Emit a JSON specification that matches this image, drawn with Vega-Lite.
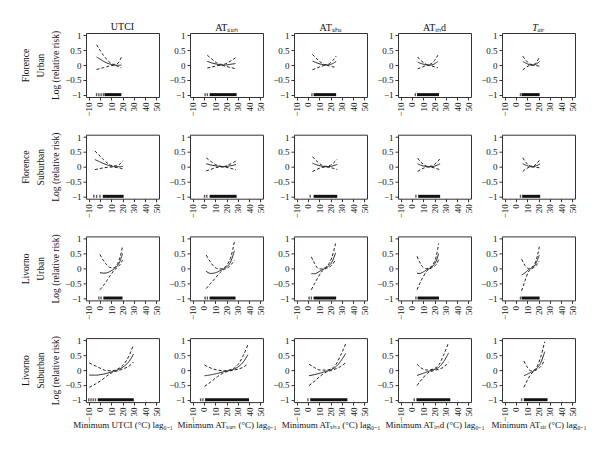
{
"$schema":"https://vega.github.io/schema/vega-lite/v6.json",
"padding":{"left":20,"top":21,"right":5,"bottom":5},
"columns":5,
"bounds":"flush",
"spacing":{"row":37.7,"column":31},
"datasets":{
"curves":[
{"p":"11","x":-3,"e":0.27,"h":0.68,"l":-0.15},{"p":"11","x":0,"e":0.2,"h":0.5,"l":-0.12},{"p":"11","x":3,"e":0.13,"h":0.33,"l":-0.09},{"p":"11","x":6,"e":0.07,"h":0.19,"l":-0.06},{"p":"11","x":9,"e":0.03,"h":0.08,"l":-0.03},{"p":"11","x":12,"e":0.0,"h":0.02,"l":-0.01},{"p":"11","x":15,"e":-0.01,"h":0.03,"l":-0.03},{"p":"11","x":17,"e":-0.01,"h":0.12,"l":-0.07},{"p":"11","x":19,"e":0.0,"h":0.26,"l":-0.1},
{"p":"12","x":3,"e":0.12,"h":0.33,"l":-0.1},{"p":"12","x":7,"e":0.07,"h":0.2,"l":-0.07},{"p":"12","x":11,"e":0.03,"h":0.08,"l":-0.03},{"p":"12","x":15,"e":0.0,"h":0.02,"l":-0.01},{"p":"12","x":19,"e":0.0,"h":0.04,"l":-0.04},{"p":"12","x":23,"e":0.02,"h":0.12,"l":-0.08},{"p":"12","x":28,"e":0.05,"h":0.24,"l":-0.12},
{"p":"13","x":4,"e":0.13,"h":0.36,"l":-0.16},{"p":"13","x":8,"e":0.07,"h":0.2,"l":-0.1},{"p":"13","x":12,"e":0.02,"h":0.07,"l":-0.04},{"p":"13","x":16,"e":0.0,"h":0.01,"l":-0.01},{"p":"13","x":19,"e":0.01,"h":0.05,"l":-0.03},{"p":"13","x":22,"e":0.05,"h":0.15,"l":-0.06},{"p":"13","x":25,"e":0.12,"h":0.3,"l":-0.08},
{"p":"14","x":5,"e":0.1,"h":0.27,"l":-0.13},{"p":"14","x":8,"e":0.05,"h":0.15,"l":-0.09},{"p":"14","x":11,"e":0.02,"h":0.06,"l":-0.04},{"p":"14","x":14,"e":0.0,"h":0.01,"l":-0.01},{"p":"14","x":17,"e":0.0,"h":0.04,"l":-0.03},{"p":"14","x":20,"e":0.04,"h":0.15,"l":-0.06},{"p":"14","x":23,"e":0.12,"h":0.33,"l":-0.09},
{"p":"15","x":6,"e":0.12,"h":0.3,"l":-0.17},{"p":"15","x":9,"e":0.06,"h":0.15,"l":-0.08},{"p":"15","x":12,"e":0.01,"h":0.04,"l":-0.02},{"p":"15","x":15,"e":0.0,"h":0.01,"l":-0.01},{"p":"15","x":18,"e":0.03,"h":0.08,"l":-0.02},{"p":"15","x":21,"e":0.12,"h":0.28,"l":-0.04},
{"p":"21","x":-4.5,"e":0.24,"h":0.53,"l":-0.1},{"p":"21","x":-1,"e":0.18,"h":0.4,"l":-0.07},{"p":"21","x":3,"e":0.11,"h":0.24,"l":-0.04},{"p":"21","x":7,"e":0.05,"h":0.11,"l":-0.02},{"p":"21","x":11,"e":0.01,"h":0.03,"l":-0.01},{"p":"21","x":15,"e":0.0,"h":0.03,"l":-0.03},{"p":"21","x":18,"e":0.0,"h":0.1,"l":-0.05},{"p":"21","x":20.5,"e":0.01,"h":0.2,"l":-0.08},
{"p":"22","x":2,"e":0.1,"h":0.3,"l":-0.14},{"p":"22","x":6,"e":0.06,"h":0.18,"l":-0.09},{"p":"22","x":10,"e":0.03,"h":0.08,"l":-0.04},{"p":"22","x":14,"e":0.01,"h":0.02,"l":-0.01},{"p":"22","x":18,"e":0.0,"h":0.01,"l":-0.01},{"p":"22","x":22,"e":0.02,"h":0.07,"l":-0.04},{"p":"22","x":26,"e":0.05,"h":0.14,"l":-0.08},{"p":"22","x":28.5,"e":0.07,"h":0.2,"l":-0.1},
{"p":"23","x":4,"e":0.12,"h":0.34,"l":-0.16},{"p":"23","x":8,"e":0.06,"h":0.18,"l":-0.09},{"p":"23","x":12,"e":0.02,"h":0.06,"l":-0.03},{"p":"23","x":16,"e":0.0,"h":0.01,"l":-0.01},{"p":"23","x":20,"e":0.01,"h":0.05,"l":-0.03},{"p":"23","x":23,"e":0.04,"h":0.14,"l":-0.06},{"p":"23","x":26,"e":0.08,"h":0.25,"l":-0.1},
{"p":"24","x":5,"e":0.1,"h":0.29,"l":-0.16},{"p":"24","x":8,"e":0.05,"h":0.15,"l":-0.09},{"p":"24","x":11,"e":0.02,"h":0.06,"l":-0.04},{"p":"24","x":14,"e":0.0,"h":0.01,"l":-0.01},{"p":"24","x":17,"e":0.0,"h":0.02,"l":-0.02},{"p":"24","x":20,"e":0.02,"h":0.08,"l":-0.04},{"p":"24","x":23,"e":0.06,"h":0.18,"l":-0.08},{"p":"24","x":25,"e":0.1,"h":0.28,"l":-0.1},
{"p":"25","x":6,"e":0.1,"h":0.3,"l":-0.16},{"p":"25","x":9,"e":0.05,"h":0.14,"l":-0.07},{"p":"25","x":12,"e":0.01,"h":0.03,"l":-0.02},{"p":"25","x":15,"e":0.0,"h":0.01,"l":-0.01},{"p":"25","x":18,"e":0.03,"h":0.09,"l":-0.02},{"p":"25","x":21.5,"e":0.1,"h":0.25,"l":-0.04},
{"p":"31","x":0,"e":-0.14,"h":0.47,"l":-0.72},{"p":"31","x":3,"e":-0.16,"h":0.27,"l":-0.58},{"p":"31","x":6,"e":-0.15,"h":0.12,"l":-0.42},{"p":"31","x":9,"e":-0.1,"h":0.03,"l":-0.25},{"p":"31","x":12,"e":-0.03,"h":0.02,"l":-0.09},{"p":"31","x":15,"e":0.07,"h":0.12,"l":0.02},{"p":"31","x":17,"e":0.18,"h":0.28,"l":0.09},{"p":"31","x":19,"e":0.37,"h":0.55,"l":0.2},{"p":"31","x":20,"e":0.5,"h":0.75,"l":0.28},
{"p":"32","x":2,"e":-0.1,"h":0.45,"l":-0.68},{"p":"32","x":6,"e":-0.17,"h":0.2,"l":-0.5},{"p":"32","x":10,"e":-0.15,"h":0.03,"l":-0.33},{"p":"32","x":14,"e":-0.08,"h":-0.02,"l":-0.15},{"p":"32","x":18,"e":0.0,"h":0.03,"l":-0.03},{"p":"32","x":21,"e":0.08,"h":0.15,"l":0.02},{"p":"32","x":24,"e":0.25,"h":0.4,"l":0.12},{"p":"32","x":27,"e":0.6,"h":0.9,"l":0.28},
{"p":"33","x":3,"e":-0.18,"h":0.39,"l":-0.72},{"p":"33","x":6,"e":-0.18,"h":0.16,"l":-0.5},{"p":"33","x":9,"e":-0.13,"h":0.0,"l":-0.3},{"p":"33","x":12,"e":-0.06,"h":-0.02,"l":-0.12},{"p":"33","x":15,"e":0.0,"h":0.02,"l":-0.02},{"p":"33","x":18,"e":0.07,"h":0.12,"l":0.03},{"p":"33","x":21,"e":0.2,"h":0.35,"l":0.1},{"p":"33","x":24.5,"e":0.52,"h":0.84,"l":0.3},
{"p":"34","x":4.5,"e":-0.16,"h":0.41,"l":-0.72},{"p":"34","x":7,"e":-0.17,"h":0.2,"l":-0.5},{"p":"34","x":10,"e":-0.12,"h":0.03,"l":-0.28},{"p":"34","x":13,"e":-0.05,"h":-0.01,"l":-0.1},{"p":"34","x":16,"e":0.01,"h":0.03,"l":-0.01},{"p":"34","x":19,"e":0.1,"h":0.15,"l":0.05},{"p":"34","x":21.5,"e":0.25,"h":0.4,"l":0.13},{"p":"34","x":23.7,"e":0.5,"h":0.84,"l":0.3},
{"p":"35","x":5,"e":-0.22,"h":0.31,"l":-0.76},{"p":"35","x":8,"e":-0.15,"h":0.1,"l":-0.42},{"p":"35","x":11,"e":-0.05,"h":0.0,"l":-0.12},{"p":"35","x":14,"e":0.02,"h":0.04,"l":-0.01},{"p":"35","x":17,"e":0.12,"h":0.18,"l":0.06},{"p":"35","x":19,"e":0.28,"h":0.42,"l":0.15},{"p":"35","x":20.7,"e":0.45,"h":0.73,"l":0.25},
{"p":"41","x":-9.5,"e":-0.17,"h":0.24,"l":-0.58},{"p":"41","x":-4,"e":-0.17,"h":0.14,"l":-0.47},{"p":"41","x":1,"e":-0.15,"h":0.05,"l":-0.35},{"p":"41","x":6,"e":-0.11,"h":-0.02,"l":-0.2},{"p":"41","x":11,"e":-0.05,"h":-0.02,"l":-0.08},{"p":"41","x":16,"e":0.01,"h":0.04,"l":-0.02},{"p":"41","x":21,"e":0.12,"h":0.19,"l":0.05},{"p":"41","x":26,"e":0.3,"h":0.5,"l":0.14},{"p":"41","x":29.7,"e":0.54,"h":0.85,"l":0.27},
{"p":"42","x":0.5,"e":-0.19,"h":0.17,"l":-0.55},{"p":"42","x":6,"e":-0.16,"h":0.07,"l":-0.4},{"p":"42","x":12,"e":-0.11,"h":0.0,"l":-0.22},{"p":"42","x":18,"e":-0.05,"h":-0.02,"l":-0.08},{"p":"42","x":24,"e":0.0,"h":0.02,"l":-0.02},{"p":"42","x":30,"e":0.1,"h":0.18,"l":0.03},{"p":"42","x":35,"e":0.28,"h":0.5,"l":0.1},{"p":"42","x":39,"e":0.52,"h":0.86,"l":0.21},
{"p":"43","x":1,"e":-0.19,"h":0.2,"l":-0.52},{"p":"43","x":6,"e":-0.15,"h":0.08,"l":-0.37},{"p":"43","x":11,"e":-0.1,"h":0.0,"l":-0.2},{"p":"43","x":16,"e":-0.04,"h":0.0,"l":-0.07},{"p":"43","x":21,"e":0.02,"h":0.05,"l":-0.01},{"p":"43","x":25,"e":0.12,"h":0.2,"l":0.05},{"p":"43","x":29,"e":0.3,"h":0.5,"l":0.12},{"p":"43","x":33.5,"e":0.56,"h":0.89,"l":0.25},
{"p":"44","x":4.5,"e":-0.18,"h":0.2,"l":-0.52},{"p":"44","x":9,"e":-0.12,"h":0.05,"l":-0.3},{"p":"44","x":14,"e":-0.05,"h":0.0,"l":-0.1},{"p":"44","x":19,"e":0.01,"h":0.04,"l":-0.02},{"p":"44","x":24,"e":0.1,"h":0.18,"l":0.03},{"p":"44","x":28,"e":0.28,"h":0.5,"l":0.1},{"p":"44","x":32.5,"e":0.58,"h":0.93,"l":0.27},
{"p":"45","x":7,"e":-0.19,"h":0.31,"l":-0.58},{"p":"45","x":10,"e":-0.14,"h":0.1,"l":-0.35},{"p":"45","x":13,"e":-0.08,"h":-0.02,"l":-0.15},{"p":"45","x":16,"e":-0.02,"h":0.0,"l":-0.04},{"p":"45","x":19,"e":0.08,"h":0.14,"l":0.03},{"p":"45","x":22,"e":0.25,"h":0.45,"l":0.12},{"p":"45","x":25.5,"e":0.62,"h":0.96,"l":0.35}
],
"rugbar":[
{"p":"11","x":4,"x2":19},{"p":"12","x":5,"x2":29},{"p":"13","x":5,"x2":25},{"p":"14","x":4.5,"x2":24},{"p":"15","x":5,"x2":21},
{"p":"21","x":2.5,"x2":21},{"p":"22","x":5,"x2":29},{"p":"23","x":5,"x2":26},{"p":"24","x":5.5,"x2":25},{"p":"25","x":5.5,"x2":21.5},
{"p":"31","x":3,"x2":20},{"p":"32","x":5,"x2":28},{"p":"33","x":5,"x2":25},{"p":"34","x":5,"x2":24},{"p":"35","x":5,"x2":21},
{"p":"41","x":-2,"x2":30},{"p":"42","x":1,"x2":40},{"p":"43","x":2,"x2":35},{"p":"44","x":4,"x2":34},{"p":"45","x":7,"x2":28}
],
"rugtick":[
{"p":"11","x":-3},{"p":"11","x":-1},{"p":"11","x":1},{"p":"11","x":3},
{"p":"12","x":1},{"p":"12","x":3},{"p":"13","x":3.5},{"p":"14","x":3},{"p":"15","x":4},
{"p":"21","x":-5.5},{"p":"21","x":-3},{"p":"21","x":0},{"p":"22","x":0.5},{"p":"22","x":2.5},{"p":"23","x":2},{"p":"24","x":3.5},{"p":"25","x":4},
{"p":"31","x":-1},{"p":"31","x":1},{"p":"32","x":1},{"p":"32","x":3},{"p":"33","x":1},{"p":"33","x":3},{"p":"34","x":3.5},{"p":"35","x":4},
{"p":"41","x":-10},{"p":"41","x":-8},{"p":"41","x":-6},{"p":"41","x":-4},{"p":"42","x":-3},{"p":"42","x":-1},{"p":"43","x":0},{"p":"44","x":2},{"p":"45","x":5}
]
},
"concat":[
{"width":73,"height":64,"title":"UTCI","encoding":{"x":{"field":"x","type":"quantitative","scale":{"domain":[-12.4,52.4],"nice":false,"zero":false},"axis":{"values":[-10,0,10,20,30,40,50],"title":null}}},"layer":[{"data":{"name":"curves"},"transform":[{"filter":"datum.p=='11'"},{"fold":["e","l","h"],"as":["s","y"]}],"mark":"line","encoding":{"y":{"field":"y","type":"quantitative","scale":{"domain":[-1.08,1.08],"nice":false,"zero":false},"axis":{"values":[-1,-0.5,0,0.5,1],"format":"~g","title":["Florence","Urban","Log (relative risk)"]}},"strokeDash":{"field":"s","type":"nominal","scale":{"domain":["e","l","h"],"range":[[1,0],[3,2],[3,2]]}}}},{"data":{"name":"rugbar"},"transform":[{"filter":"datum.p=='11'"}],"mark":"rule","encoding":{"x2":{"field":"x2"},"y":{"datum":-1,"type":"quantitative","scale":{"domain":[-1.08,1.08],"nice":false,"zero":false},"axis":{"values":[-1,-0.5,0,0.5,1],"format":"~g","title":["Florence","Urban","Log (relative risk)"]}}}},{"data":{"name":"rugtick"},"transform":[{"filter":"datum.p=='11'"}],"mark":{"type":"tick","orient":"vertical","size":3,"thickness":1.4},"encoding":{"y":{"datum":-1,"type":"quantitative","scale":{"domain":[-1.08,1.08],"nice":false,"zero":false},"axis":{"values":[-1,-0.5,0,0.5,1],"format":"~g","title":["Florence","Urban","Log (relative risk)"]}}}}]},
{"width":73,"height":64,"title":"ATₛᵤₙ","encoding":{"x":{"field":"x","type":"quantitative","scale":{"domain":[-12.4,52.4],"nice":false,"zero":false},"axis":{"values":[-10,0,10,20,30,40,50],"title":null}}},"layer":[{"data":{"name":"curves"},"transform":[{"filter":"datum.p=='12'"},{"fold":["e","l","h"],"as":["s","y"]}],"mark":"line","encoding":{"y":{"field":"y","type":"quantitative","scale":{"domain":[-1.08,1.08],"nice":false,"zero":false},"axis":{"values":[-1,-0.5,0,0.5,1],"format":"~g","title":null}},"strokeDash":{"field":"s","type":"nominal","scale":{"domain":["e","l","h"],"range":[[1,0],[3,2],[3,2]]}}}},{"data":{"name":"rugbar"},"transform":[{"filter":"datum.p=='12'"}],"mark":"rule","encoding":{"x2":{"field":"x2"},"y":{"datum":-1,"type":"quantitative","scale":{"domain":[-1.08,1.08],"nice":false,"zero":false},"axis":{"values":[-1,-0.5,0,0.5,1],"format":"~g","title":null}}}},{"data":{"name":"rugtick"},"transform":[{"filter":"datum.p=='12'"}],"mark":{"type":"tick","orient":"vertical","size":3,"thickness":1.4},"encoding":{"y":{"datum":-1,"type":"quantitative","scale":{"domain":[-1.08,1.08],"nice":false,"zero":false},"axis":{"values":[-1,-0.5,0,0.5,1],"format":"~g","title":null}}}}]},
{"width":73,"height":64,"title":"ATₛₕₐ","encoding":{"x":{"field":"x","type":"quantitative","scale":{"domain":[-12.4,52.4],"nice":false,"zero":false},"axis":{"values":[-10,0,10,20,30,40,50],"title":null}}},"layer":[{"data":{"name":"curves"},"transform":[{"filter":"datum.p=='13'"},{"fold":["e","l","h"],"as":["s","y"]}],"mark":"line","encoding":{"y":{"field":"y","type":"quantitative","scale":{"domain":[-1.08,1.08],"nice":false,"zero":false},"axis":{"values":[-1,-0.5,0,0.5,1],"format":"~g","title":null}},"strokeDash":{"field":"s","type":"nominal","scale":{"domain":["e","l","h"],"range":[[1,0],[3,2],[3,2]]}}}},{"data":{"name":"rugbar"},"transform":[{"filter":"datum.p=='13'"}],"mark":"rule","encoding":{"x2":{"field":"x2"},"y":{"datum":-1,"type":"quantitative","scale":{"domain":[-1.08,1.08],"nice":false,"zero":false},"axis":{"values":[-1,-0.5,0,0.5,1],"format":"~g","title":null}}}},{"data":{"name":"rugtick"},"transform":[{"filter":"datum.p=='13'"}],"mark":{"type":"tick","orient":"vertical","size":3,"thickness":1.4},"encoding":{"y":{"datum":-1,"type":"quantitative","scale":{"domain":[-1.08,1.08],"nice":false,"zero":false},"axis":{"values":[-1,-0.5,0,0.5,1],"format":"~g","title":null}}}}]},
{"width":73,"height":64,"title":"ATᵢₙd","encoding":{"x":{"field":"x","type":"quantitative","scale":{"domain":[-12.4,52.4],"nice":false,"zero":false},"axis":{"values":[-10,0,10,20,30,40,50],"title":null}}},"layer":[{"data":{"name":"curves"},"transform":[{"filter":"datum.p=='14'"},{"fold":["e","l","h"],"as":["s","y"]}],"mark":"line","encoding":{"y":{"field":"y","type":"quantitative","scale":{"domain":[-1.08,1.08],"nice":false,"zero":false},"axis":{"values":[-1,-0.5,0,0.5,1],"format":"~g","title":null}},"strokeDash":{"field":"s","type":"nominal","scale":{"domain":["e","l","h"],"range":[[1,0],[3,2],[3,2]]}}}},{"data":{"name":"rugbar"},"transform":[{"filter":"datum.p=='14'"}],"mark":"rule","encoding":{"x2":{"field":"x2"},"y":{"datum":-1,"type":"quantitative","scale":{"domain":[-1.08,1.08],"nice":false,"zero":false},"axis":{"values":[-1,-0.5,0,0.5,1],"format":"~g","title":null}}}},{"data":{"name":"rugtick"},"transform":[{"filter":"datum.p=='14'"}],"mark":{"type":"tick","orient":"vertical","size":3,"thickness":1.4},"encoding":{"y":{"datum":-1,"type":"quantitative","scale":{"domain":[-1.08,1.08],"nice":false,"zero":false},"axis":{"values":[-1,-0.5,0,0.5,1],"format":"~g","title":null}}}}]},
{"width":73,"height":64,"title":{"text":"Tₐᵢᵣ","fontStyle":"italic"},"encoding":{"x":{"field":"x","type":"quantitative","scale":{"domain":[-12.4,52.4],"nice":false,"zero":false},"axis":{"values":[-10,0,10,20,30,40,50],"title":null}}},"layer":[{"data":{"name":"curves"},"transform":[{"filter":"datum.p=='15'"},{"fold":["e","l","h"],"as":["s","y"]}],"mark":"line","encoding":{"y":{"field":"y","type":"quantitative","scale":{"domain":[-1.08,1.08],"nice":false,"zero":false},"axis":{"values":[-1,-0.5,0,0.5,1],"format":"~g","title":null}},"strokeDash":{"field":"s","type":"nominal","scale":{"domain":["e","l","h"],"range":[[1,0],[3,2],[3,2]]}}}},{"data":{"name":"rugbar"},"transform":[{"filter":"datum.p=='15'"}],"mark":"rule","encoding":{"x2":{"field":"x2"},"y":{"datum":-1,"type":"quantitative","scale":{"domain":[-1.08,1.08],"nice":false,"zero":false},"axis":{"values":[-1,-0.5,0,0.5,1],"format":"~g","title":null}}}},{"data":{"name":"rugtick"},"transform":[{"filter":"datum.p=='15'"}],"mark":{"type":"tick","orient":"vertical","size":3,"thickness":1.4},"encoding":{"y":{"datum":-1,"type":"quantitative","scale":{"domain":[-1.08,1.08],"nice":false,"zero":false},"axis":{"values":[-1,-0.5,0,0.5,1],"format":"~g","title":null}}}}]},

{"width":73,"height":64,"encoding":{"x":{"field":"x","type":"quantitative","scale":{"domain":[-12.4,52.4],"nice":false,"zero":false},"axis":{"values":[-10,0,10,20,30,40,50],"title":null}}},"layer":[{"data":{"name":"curves"},"transform":[{"filter":"datum.p=='21'"},{"fold":["e","l","h"],"as":["s","y"]}],"mark":"line","encoding":{"y":{"field":"y","type":"quantitative","scale":{"domain":[-1.08,1.08],"nice":false,"zero":false},"axis":{"values":[-1,-0.5,0,0.5,1],"format":"~g","title":["Florence","Suburban","Log (relative risk)"]}},"strokeDash":{"field":"s","type":"nominal","scale":{"domain":["e","l","h"],"range":[[1,0],[3,2],[3,2]]}}}},{"data":{"name":"rugbar"},"transform":[{"filter":"datum.p=='21'"}],"mark":"rule","encoding":{"x2":{"field":"x2"},"y":{"datum":-1,"type":"quantitative","scale":{"domain":[-1.08,1.08],"nice":false,"zero":false},"axis":{"values":[-1,-0.5,0,0.5,1],"format":"~g","title":["Florence","Suburban","Log (relative risk)"]}}}},{"data":{"name":"rugtick"},"transform":[{"filter":"datum.p=='21'"}],"mark":{"type":"tick","orient":"vertical","size":3,"thickness":1.4},"encoding":{"y":{"datum":-1,"type":"quantitative","scale":{"domain":[-1.08,1.08],"nice":false,"zero":false},"axis":{"values":[-1,-0.5,0,0.5,1],"format":"~g","title":["Florence","Suburban","Log (relative risk)"]}}}}]},
{"width":73,"height":64,"encoding":{"x":{"field":"x","type":"quantitative","scale":{"domain":[-12.4,52.4],"nice":false,"zero":false},"axis":{"values":[-10,0,10,20,30,40,50],"title":null}}},"layer":[{"data":{"name":"curves"},"transform":[{"filter":"datum.p=='22'"},{"fold":["e","l","h"],"as":["s","y"]}],"mark":"line","encoding":{"y":{"field":"y","type":"quantitative","scale":{"domain":[-1.08,1.08],"nice":false,"zero":false},"axis":{"values":[-1,-0.5,0,0.5,1],"format":"~g","title":null}},"strokeDash":{"field":"s","type":"nominal","scale":{"domain":["e","l","h"],"range":[[1,0],[3,2],[3,2]]}}}},{"data":{"name":"rugbar"},"transform":[{"filter":"datum.p=='22'"}],"mark":"rule","encoding":{"x2":{"field":"x2"},"y":{"datum":-1,"type":"quantitative","scale":{"domain":[-1.08,1.08],"nice":false,"zero":false},"axis":{"values":[-1,-0.5,0,0.5,1],"format":"~g","title":null}}}},{"data":{"name":"rugtick"},"transform":[{"filter":"datum.p=='22'"}],"mark":{"type":"tick","orient":"vertical","size":3,"thickness":1.4},"encoding":{"y":{"datum":-1,"type":"quantitative","scale":{"domain":[-1.08,1.08],"nice":false,"zero":false},"axis":{"values":[-1,-0.5,0,0.5,1],"format":"~g","title":null}}}}]},
{"width":73,"height":64,"encoding":{"x":{"field":"x","type":"quantitative","scale":{"domain":[-12.4,52.4],"nice":false,"zero":false},"axis":{"values":[-10,0,10,20,30,40,50],"title":null}}},"layer":[{"data":{"name":"curves"},"transform":[{"filter":"datum.p=='23'"},{"fold":["e","l","h"],"as":["s","y"]}],"mark":"line","encoding":{"y":{"field":"y","type":"quantitative","scale":{"domain":[-1.08,1.08],"nice":false,"zero":false},"axis":{"values":[-1,-0.5,0,0.5,1],"format":"~g","title":null}},"strokeDash":{"field":"s","type":"nominal","scale":{"domain":["e","l","h"],"range":[[1,0],[3,2],[3,2]]}}}},{"data":{"name":"rugbar"},"transform":[{"filter":"datum.p=='23'"}],"mark":"rule","encoding":{"x2":{"field":"x2"},"y":{"datum":-1,"type":"quantitative","scale":{"domain":[-1.08,1.08],"nice":false,"zero":false},"axis":{"values":[-1,-0.5,0,0.5,1],"format":"~g","title":null}}}},{"data":{"name":"rugtick"},"transform":[{"filter":"datum.p=='23'"}],"mark":{"type":"tick","orient":"vertical","size":3,"thickness":1.4},"encoding":{"y":{"datum":-1,"type":"quantitative","scale":{"domain":[-1.08,1.08],"nice":false,"zero":false},"axis":{"values":[-1,-0.5,0,0.5,1],"format":"~g","title":null}}}}]},
{"width":73,"height":64,"encoding":{"x":{"field":"x","type":"quantitative","scale":{"domain":[-12.4,52.4],"nice":false,"zero":false},"axis":{"values":[-10,0,10,20,30,40,50],"title":null}}},"layer":[{"data":{"name":"curves"},"transform":[{"filter":"datum.p=='24'"},{"fold":["e","l","h"],"as":["s","y"]}],"mark":"line","encoding":{"y":{"field":"y","type":"quantitative","scale":{"domain":[-1.08,1.08],"nice":false,"zero":false},"axis":{"values":[-1,-0.5,0,0.5,1],"format":"~g","title":null}},"strokeDash":{"field":"s","type":"nominal","scale":{"domain":["e","l","h"],"range":[[1,0],[3,2],[3,2]]}}}},{"data":{"name":"rugbar"},"transform":[{"filter":"datum.p=='24'"}],"mark":"rule","encoding":{"x2":{"field":"x2"},"y":{"datum":-1,"type":"quantitative","scale":{"domain":[-1.08,1.08],"nice":false,"zero":false},"axis":{"values":[-1,-0.5,0,0.5,1],"format":"~g","title":null}}}},{"data":{"name":"rugtick"},"transform":[{"filter":"datum.p=='24'"}],"mark":{"type":"tick","orient":"vertical","size":3,"thickness":1.4},"encoding":{"y":{"datum":-1,"type":"quantitative","scale":{"domain":[-1.08,1.08],"nice":false,"zero":false},"axis":{"values":[-1,-0.5,0,0.5,1],"format":"~g","title":null}}}}]},
{"width":73,"height":64,"encoding":{"x":{"field":"x","type":"quantitative","scale":{"domain":[-12.4,52.4],"nice":false,"zero":false},"axis":{"values":[-10,0,10,20,30,40,50],"title":null}}},"layer":[{"data":{"name":"curves"},"transform":[{"filter":"datum.p=='25'"},{"fold":["e","l","h"],"as":["s","y"]}],"mark":"line","encoding":{"y":{"field":"y","type":"quantitative","scale":{"domain":[-1.08,1.08],"nice":false,"zero":false},"axis":{"values":[-1,-0.5,0,0.5,1],"format":"~g","title":null}},"strokeDash":{"field":"s","type":"nominal","scale":{"domain":["e","l","h"],"range":[[1,0],[3,2],[3,2]]}}}},{"data":{"name":"rugbar"},"transform":[{"filter":"datum.p=='25'"}],"mark":"rule","encoding":{"x2":{"field":"x2"},"y":{"datum":-1,"type":"quantitative","scale":{"domain":[-1.08,1.08],"nice":false,"zero":false},"axis":{"values":[-1,-0.5,0,0.5,1],"format":"~g","title":null}}}},{"data":{"name":"rugtick"},"transform":[{"filter":"datum.p=='25'"}],"mark":{"type":"tick","orient":"vertical","size":3,"thickness":1.4},"encoding":{"y":{"datum":-1,"type":"quantitative","scale":{"domain":[-1.08,1.08],"nice":false,"zero":false},"axis":{"values":[-1,-0.5,0,0.5,1],"format":"~g","title":null}}}}]},

{"width":73,"height":64,"encoding":{"x":{"field":"x","type":"quantitative","scale":{"domain":[-12.4,52.4],"nice":false,"zero":false},"axis":{"values":[-10,0,10,20,30,40,50],"title":null}}},"layer":[{"data":{"name":"curves"},"transform":[{"filter":"datum.p=='31'"},{"fold":["e","l","h"],"as":["s","y"]}],"mark":"line","encoding":{"y":{"field":"y","type":"quantitative","scale":{"domain":[-1.08,1.08],"nice":false,"zero":false},"axis":{"values":[-1,-0.5,0,0.5,1],"format":"~g","title":["Livorno","Urban","Log (relative risk)"]}},"strokeDash":{"field":"s","type":"nominal","scale":{"domain":["e","l","h"],"range":[[1,0],[3,2],[3,2]]}}}},{"data":{"name":"rugbar"},"transform":[{"filter":"datum.p=='31'"}],"mark":"rule","encoding":{"x2":{"field":"x2"},"y":{"datum":-1,"type":"quantitative","scale":{"domain":[-1.08,1.08],"nice":false,"zero":false},"axis":{"values":[-1,-0.5,0,0.5,1],"format":"~g","title":["Livorno","Urban","Log (relative risk)"]}}}},{"data":{"name":"rugtick"},"transform":[{"filter":"datum.p=='31'"}],"mark":{"type":"tick","orient":"vertical","size":3,"thickness":1.4},"encoding":{"y":{"datum":-1,"type":"quantitative","scale":{"domain":[-1.08,1.08],"nice":false,"zero":false},"axis":{"values":[-1,-0.5,0,0.5,1],"format":"~g","title":["Livorno","Urban","Log (relative risk)"]}}}}]},
{"width":73,"height":64,"encoding":{"x":{"field":"x","type":"quantitative","scale":{"domain":[-12.4,52.4],"nice":false,"zero":false},"axis":{"values":[-10,0,10,20,30,40,50],"title":null}}},"layer":[{"data":{"name":"curves"},"transform":[{"filter":"datum.p=='32'"},{"fold":["e","l","h"],"as":["s","y"]}],"mark":"line","encoding":{"y":{"field":"y","type":"quantitative","scale":{"domain":[-1.08,1.08],"nice":false,"zero":false},"axis":{"values":[-1,-0.5,0,0.5,1],"format":"~g","title":null}},"strokeDash":{"field":"s","type":"nominal","scale":{"domain":["e","l","h"],"range":[[1,0],[3,2],[3,2]]}}}},{"data":{"name":"rugbar"},"transform":[{"filter":"datum.p=='32'"}],"mark":"rule","encoding":{"x2":{"field":"x2"},"y":{"datum":-1,"type":"quantitative","scale":{"domain":[-1.08,1.08],"nice":false,"zero":false},"axis":{"values":[-1,-0.5,0,0.5,1],"format":"~g","title":null}}}},{"data":{"name":"rugtick"},"transform":[{"filter":"datum.p=='32'"}],"mark":{"type":"tick","orient":"vertical","size":3,"thickness":1.4},"encoding":{"y":{"datum":-1,"type":"quantitative","scale":{"domain":[-1.08,1.08],"nice":false,"zero":false},"axis":{"values":[-1,-0.5,0,0.5,1],"format":"~g","title":null}}}}]},
{"width":73,"height":64,"encoding":{"x":{"field":"x","type":"quantitative","scale":{"domain":[-12.4,52.4],"nice":false,"zero":false},"axis":{"values":[-10,0,10,20,30,40,50],"title":null}}},"layer":[{"data":{"name":"curves"},"transform":[{"filter":"datum.p=='33'"},{"fold":["e","l","h"],"as":["s","y"]}],"mark":"line","encoding":{"y":{"field":"y","type":"quantitative","scale":{"domain":[-1.08,1.08],"nice":false,"zero":false},"axis":{"values":[-1,-0.5,0,0.5,1],"format":"~g","title":null}},"strokeDash":{"field":"s","type":"nominal","scale":{"domain":["e","l","h"],"range":[[1,0],[3,2],[3,2]]}}}},{"data":{"name":"rugbar"},"transform":[{"filter":"datum.p=='33'"}],"mark":"rule","encoding":{"x2":{"field":"x2"},"y":{"datum":-1,"type":"quantitative","scale":{"domain":[-1.08,1.08],"nice":false,"zero":false},"axis":{"values":[-1,-0.5,0,0.5,1],"format":"~g","title":null}}}},{"data":{"name":"rugtick"},"transform":[{"filter":"datum.p=='33'"}],"mark":{"type":"tick","orient":"vertical","size":3,"thickness":1.4},"encoding":{"y":{"datum":-1,"type":"quantitative","scale":{"domain":[-1.08,1.08],"nice":false,"zero":false},"axis":{"values":[-1,-0.5,0,0.5,1],"format":"~g","title":null}}}}]},
{"width":73,"height":64,"encoding":{"x":{"field":"x","type":"quantitative","scale":{"domain":[-12.4,52.4],"nice":false,"zero":false},"axis":{"values":[-10,0,10,20,30,40,50],"title":null}}},"layer":[{"data":{"name":"curves"},"transform":[{"filter":"datum.p=='34'"},{"fold":["e","l","h"],"as":["s","y"]}],"mark":"line","encoding":{"y":{"field":"y","type":"quantitative","scale":{"domain":[-1.08,1.08],"nice":false,"zero":false},"axis":{"values":[-1,-0.5,0,0.5,1],"format":"~g","title":null}},"strokeDash":{"field":"s","type":"nominal","scale":{"domain":["e","l","h"],"range":[[1,0],[3,2],[3,2]]}}}},{"data":{"name":"rugbar"},"transform":[{"filter":"datum.p=='34'"}],"mark":"rule","encoding":{"x2":{"field":"x2"},"y":{"datum":-1,"type":"quantitative","scale":{"domain":[-1.08,1.08],"nice":false,"zero":false},"axis":{"values":[-1,-0.5,0,0.5,1],"format":"~g","title":null}}}},{"data":{"name":"rugtick"},"transform":[{"filter":"datum.p=='34'"}],"mark":{"type":"tick","orient":"vertical","size":3,"thickness":1.4},"encoding":{"y":{"datum":-1,"type":"quantitative","scale":{"domain":[-1.08,1.08],"nice":false,"zero":false},"axis":{"values":[-1,-0.5,0,0.5,1],"format":"~g","title":null}}}}]},
{"width":73,"height":64,"encoding":{"x":{"field":"x","type":"quantitative","scale":{"domain":[-12.4,52.4],"nice":false,"zero":false},"axis":{"values":[-10,0,10,20,30,40,50],"title":null}}},"layer":[{"data":{"name":"curves"},"transform":[{"filter":"datum.p=='35'"},{"fold":["e","l","h"],"as":["s","y"]}],"mark":"line","encoding":{"y":{"field":"y","type":"quantitative","scale":{"domain":[-1.08,1.08],"nice":false,"zero":false},"axis":{"values":[-1,-0.5,0,0.5,1],"format":"~g","title":null}},"strokeDash":{"field":"s","type":"nominal","scale":{"domain":["e","l","h"],"range":[[1,0],[3,2],[3,2]]}}}},{"data":{"name":"rugbar"},"transform":[{"filter":"datum.p=='35'"}],"mark":"rule","encoding":{"x2":{"field":"x2"},"y":{"datum":-1,"type":"quantitative","scale":{"domain":[-1.08,1.08],"nice":false,"zero":false},"axis":{"values":[-1,-0.5,0,0.5,1],"format":"~g","title":null}}}},{"data":{"name":"rugtick"},"transform":[{"filter":"datum.p=='35'"}],"mark":{"type":"tick","orient":"vertical","size":3,"thickness":1.4},"encoding":{"y":{"datum":-1,"type":"quantitative","scale":{"domain":[-1.08,1.08],"nice":false,"zero":false},"axis":{"values":[-1,-0.5,0,0.5,1],"format":"~g","title":null}}}}]},

{"width":73,"height":64,"encoding":{"x":{"field":"x","type":"quantitative","scale":{"domain":[-12.4,52.4],"nice":false,"zero":false},"axis":{"values":[-10,0,10,20,30,40,50],"title":"Minimum UTCI (°C) lag₀₋₁"}}},"layer":[{"data":{"name":"curves"},"transform":[{"filter":"datum.p=='41'"},{"fold":["e","l","h"],"as":["s","y"]}],"mark":"line","encoding":{"y":{"field":"y","type":"quantitative","scale":{"domain":[-1.08,1.08],"nice":false,"zero":false},"axis":{"values":[-1,-0.5,0,0.5,1],"format":"~g","title":["Livorno","Suburban","Log (relative risk)"]}},"strokeDash":{"field":"s","type":"nominal","scale":{"domain":["e","l","h"],"range":[[1,0],[3,2],[3,2]]}}}},{"data":{"name":"rugbar"},"transform":[{"filter":"datum.p=='41'"}],"mark":"rule","encoding":{"x2":{"field":"x2"},"y":{"datum":-1,"type":"quantitative","scale":{"domain":[-1.08,1.08],"nice":false,"zero":false},"axis":{"values":[-1,-0.5,0,0.5,1],"format":"~g","title":["Livorno","Suburban","Log (relative risk)"]}}}},{"data":{"name":"rugtick"},"transform":[{"filter":"datum.p=='41'"}],"mark":{"type":"tick","orient":"vertical","size":3,"thickness":1.4},"encoding":{"y":{"datum":-1,"type":"quantitative","scale":{"domain":[-1.08,1.08],"nice":false,"zero":false},"axis":{"values":[-1,-0.5,0,0.5,1],"format":"~g","title":["Livorno","Suburban","Log (relative risk)"]}}}}]},
{"width":73,"height":64,"encoding":{"x":{"field":"x","type":"quantitative","scale":{"domain":[-12.4,52.4],"nice":false,"zero":false},"axis":{"values":[-10,0,10,20,30,40,50],"title":"Minimum ATₛᵤₙ (°C) lag₀₋₁"}}},"layer":[{"data":{"name":"curves"},"transform":[{"filter":"datum.p=='42'"},{"fold":["e","l","h"],"as":["s","y"]}],"mark":"line","encoding":{"y":{"field":"y","type":"quantitative","scale":{"domain":[-1.08,1.08],"nice":false,"zero":false},"axis":{"values":[-1,-0.5,0,0.5,1],"format":"~g","title":null}},"strokeDash":{"field":"s","type":"nominal","scale":{"domain":["e","l","h"],"range":[[1,0],[3,2],[3,2]]}}}},{"data":{"name":"rugbar"},"transform":[{"filter":"datum.p=='42'"}],"mark":"rule","encoding":{"x2":{"field":"x2"},"y":{"datum":-1,"type":"quantitative","scale":{"domain":[-1.08,1.08],"nice":false,"zero":false},"axis":{"values":[-1,-0.5,0,0.5,1],"format":"~g","title":null}}}},{"data":{"name":"rugtick"},"transform":[{"filter":"datum.p=='42'"}],"mark":{"type":"tick","orient":"vertical","size":3,"thickness":1.4},"encoding":{"y":{"datum":-1,"type":"quantitative","scale":{"domain":[-1.08,1.08],"nice":false,"zero":false},"axis":{"values":[-1,-0.5,0,0.5,1],"format":"~g","title":null}}}}]},
{"width":73,"height":64,"encoding":{"x":{"field":"x","type":"quantitative","scale":{"domain":[-12.4,52.4],"nice":false,"zero":false},"axis":{"values":[-10,0,10,20,30,40,50],"title":"Minimum ATₛₕₐ (°C) lag₀₋₁"}}},"layer":[{"data":{"name":"curves"},"transform":[{"filter":"datum.p=='43'"},{"fold":["e","l","h"],"as":["s","y"]}],"mark":"line","encoding":{"y":{"field":"y","type":"quantitative","scale":{"domain":[-1.08,1.08],"nice":false,"zero":false},"axis":{"values":[-1,-0.5,0,0.5,1],"format":"~g","title":null}},"strokeDash":{"field":"s","type":"nominal","scale":{"domain":["e","l","h"],"range":[[1,0],[3,2],[3,2]]}}}},{"data":{"name":"rugbar"},"transform":[{"filter":"datum.p=='43'"}],"mark":"rule","encoding":{"x2":{"field":"x2"},"y":{"datum":-1,"type":"quantitative","scale":{"domain":[-1.08,1.08],"nice":false,"zero":false},"axis":{"values":[-1,-0.5,0,0.5,1],"format":"~g","title":null}}}},{"data":{"name":"rugtick"},"transform":[{"filter":"datum.p=='43'"}],"mark":{"type":"tick","orient":"vertical","size":3,"thickness":1.4},"encoding":{"y":{"datum":-1,"type":"quantitative","scale":{"domain":[-1.08,1.08],"nice":false,"zero":false},"axis":{"values":[-1,-0.5,0,0.5,1],"format":"~g","title":null}}}}]},
{"width":73,"height":64,"encoding":{"x":{"field":"x","type":"quantitative","scale":{"domain":[-12.4,52.4],"nice":false,"zero":false},"axis":{"values":[-10,0,10,20,30,40,50],"title":"Minimum ATᵢₙd (°C) lag₀₋₁"}}},"layer":[{"data":{"name":"curves"},"transform":[{"filter":"datum.p=='44'"},{"fold":["e","l","h"],"as":["s","y"]}],"mark":"line","encoding":{"y":{"field":"y","type":"quantitative","scale":{"domain":[-1.08,1.08],"nice":false,"zero":false},"axis":{"values":[-1,-0.5,0,0.5,1],"format":"~g","title":null}},"strokeDash":{"field":"s","type":"nominal","scale":{"domain":["e","l","h"],"range":[[1,0],[3,2],[3,2]]}}}},{"data":{"name":"rugbar"},"transform":[{"filter":"datum.p=='44'"}],"mark":"rule","encoding":{"x2":{"field":"x2"},"y":{"datum":-1,"type":"quantitative","scale":{"domain":[-1.08,1.08],"nice":false,"zero":false},"axis":{"values":[-1,-0.5,0,0.5,1],"format":"~g","title":null}}}},{"data":{"name":"rugtick"},"transform":[{"filter":"datum.p=='44'"}],"mark":{"type":"tick","orient":"vertical","size":3,"thickness":1.4},"encoding":{"y":{"datum":-1,"type":"quantitative","scale":{"domain":[-1.08,1.08],"nice":false,"zero":false},"axis":{"values":[-1,-0.5,0,0.5,1],"format":"~g","title":null}}}}]},
{"width":73,"height":64,"encoding":{"x":{"field":"x","type":"quantitative","scale":{"domain":[-12.4,52.4],"nice":false,"zero":false},"axis":{"values":[-10,0,10,20,30,40,50],"title":"Minimum ATₐᵢᵣ (°C) lag₀₋₁"}}},"layer":[{"data":{"name":"curves"},"transform":[{"filter":"datum.p=='45'"},{"fold":["e","l","h"],"as":["s","y"]}],"mark":"line","encoding":{"y":{"field":"y","type":"quantitative","scale":{"domain":[-1.08,1.08],"nice":false,"zero":false},"axis":{"values":[-1,-0.5,0,0.5,1],"format":"~g","title":null}},"strokeDash":{"field":"s","type":"nominal","scale":{"domain":["e","l","h"],"range":[[1,0],[3,2],[3,2]]}}}},{"data":{"name":"rugbar"},"transform":[{"filter":"datum.p=='45'"}],"mark":"rule","encoding":{"x2":{"field":"x2"},"y":{"datum":-1,"type":"quantitative","scale":{"domain":[-1.08,1.08],"nice":false,"zero":false},"axis":{"values":[-1,-0.5,0,0.5,1],"format":"~g","title":null}}}},{"data":{"name":"rugtick"},"transform":[{"filter":"datum.p=='45'"}],"mark":{"type":"tick","orient":"vertical","size":3,"thickness":1.4},"encoding":{"y":{"datum":-1,"type":"quantitative","scale":{"domain":[-1.08,1.08],"nice":false,"zero":false},"axis":{"values":[-1,-0.5,0,0.5,1],"format":"~g","title":null}}}}]}
],
"config":{
"background":"white",
"font":"Liberation Serif",
"view":{"stroke":"#333","strokeWidth":1},
"legend":{"disable":true},
"line":{"color":"#222","strokeWidth":1,"interpolate":"monotone"},
"rule":{"color":"#111","strokeWidth":3},
"tick":{"color":"#111"},
"title":{"font":"Liberation Serif","fontSize":10,"fontWeight":"normal","color":"#111","offset":-2},
"axis":{"domain":false,"grid":false,"tickSize":3,"tickColor":"#333","labelFont":"Liberation Serif","labelFontSize":9,"labelColor":"#111","titleFont":"Liberation Serif","titleFontSize":9.5,"titleFontWeight":"normal","titleColor":"#111","labelPadding":2,"labelOverlap":false},
"axisX":{"labelAngle":-90,"titlePadding":-1,"titleFontSize":9},
"axisY":{"labelAngle":0,"titleLineHeight":15,"titlePadding":4}
}
}
